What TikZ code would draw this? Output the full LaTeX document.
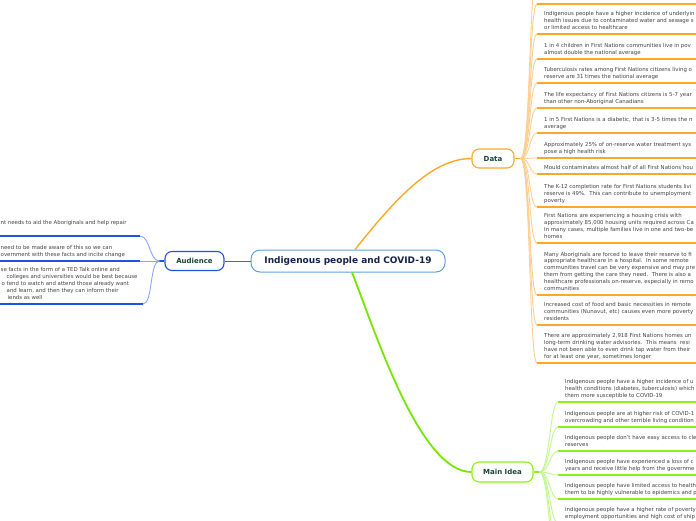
\documentclass[tikz,border=0pt]{standalone}
\usepackage{fontspec}
\setmainfont{DejaVu Sans}
\usepackage{tikz}
\usetikzlibrary{positioning}
\definecolor{rootblue}{RGB}{98,160,218}
\definecolor{rootnavy}{RGB}{22,35,75}
\definecolor{labelgreen}{RGB}{25,70,55}
\definecolor{audblue}{RGB}{30,82,232}
\definecolor{audlight}{RGB}{140,165,245}
\definecolor{dataorange}{RGB}{250,168,40}
\definecolor{datalight}{RGB}{253,206,145}
\definecolor{ideagreen}{RGB}{140,240,20}
\definecolor{idealight}{RGB}{196,248,150}
\definecolor{rootgreen}{RGB}{118,230,0}
\definecolor{itemgray}{RGB}{68,68,68}

\begin{document}
\begin{tikzpicture}[x=1pt,y=-1pt,
  topic/.style={draw, rounded corners=7pt, fill=white, line width=1.1pt, inner sep=0pt,
    minimum height=19pt, text=labelgreen, font=\bfseries\fontsize{7}{8}\selectfont},
  item/.style={inner sep=0pt, align=left, text=itemgray, text depth=1.3pt,
    font=\fontsize{5.4}{6.8}\selectfont},
  dfan/.style={datalight, line width=0.9pt},
  dline/.style={dataorange, line width=2.2pt},
  mfan/.style={idealight, line width=1pt},
  mline/.style={ideagreen, line width=2.4pt},
  afan/.style={audlight, line width=0.9pt},
  aline/.style={audblue, line width=1.8pt}]
  \useasboundingbox (0,0) rectangle (696,520);
  \clip (0,0) rectangle (696,520);

  % Central topic
  \node[draw=rootblue, line width=1pt, rounded corners=9pt, fill=white, minimum width=194pt,
    minimum height=22pt, text=rootnavy, font=\bfseries\fontsize{9}{11}\selectfont]
    (root) at (348,261) {Indigenous people and COVID-19};

  % Main topics
  \node[topic, draw=audblue, minimum width=59pt] (aud) at (194.5,261) {Audience};
  \node[topic, draw=dataorange, minimum width=42pt] (data) at (493,158.5) {Data};
  \node[topic, draw=ideagreen, minimum width=61pt, minimum height=20pt] (idea) at (502.5,472) {Main Idea};

  \draw[audblue!70!rootblue, line width=1pt] (root.west) -- (aud.east);
  \draw[dataorange, line width=1.4pt] ([xshift=7pt]root.north) .. controls +(40,-50) and +(-40,0) .. (data.west);
  \draw[rootgreen, line width=1.8pt] ([xshift=4pt]root.south) .. controls +(23,58) and +(-52,0) .. (idea.west);

  % Data
  \coordinate (dfan) at ([xshift=6pt]data.east);
  \draw[dataorange, line width=1.6pt] (data.east) -- (dfan);
  \coordinate (d0) at (537,-26);
  \coordinate (d1) at (537,4);
  \coordinate (d2) at (537,34);
  \coordinate (d3) at (537,59);
  \coordinate (d4) at (537,83);
  \coordinate (d5) at (537,108);
  \coordinate (d6) at (537,133);
  \coordinate (d7) at (537,158);
  \coordinate (d8) at (537,174);
  \coordinate (d9) at (537,207);
  \coordinate (d10) at (537,243);
  \coordinate (d11) at (537,295);
  \coordinate (d12) at (537,325);
  \coordinate (d13) at (537,363);
  \foreach \i in {0,...,13} {
    \draw[dfan] (dfan) .. controls +(10,0) and +(-8,0) .. (d\i);
    \draw[dline] (d\i) -- ++(170,0);
  }
  \node[item, above right=3.5pt and 7pt of d2] (t2) {Indigenous people have a higher incidence of underlyin\\health issues due to contaminated water and sewage s\\or limited access to healthcare};
  \node[item, above right=3.5pt and 7pt of d3] (t3) {1 in 4 children in First Nations communities live in pov\\almost double the national average};
  \node[item, above right=3.5pt and 7pt of d4] (t4) {Tuberculosis rates among First Nations citizens living o\\reserve are 31 times the national average};
  \node[item, above right=3.5pt and 7pt of d5] (t5) {The life expectancy of First Nations citizens is 5-7 year\\than other non-Aboriginal Canadians};
  \node[item, above right=3.5pt and 7pt of d6] (t6) {1 in 5 First Nations is a diabetic, that is 3-5 times the n\\average};
  \node[item, above right=3.5pt and 7pt of d7] (t7) {Approximately 25\% of on-reserve water treatment sys\\pose a high health risk};
  \node[item, above right=3.5pt and 7pt of d8] (t8) {Mould contaminates almost half of all First Nations hou};
  \node[item, above right=3.5pt and 7pt of d9] (t9) {The K-12 completion rate for First Nations students livi\\reserve is 49\%.\ \ This can contribute to unemployment\\poverty};
  \node[item, above right=3.5pt and 7pt of d10] (t10) {First Nations are experiencing a housing crisis with\\approximately 85,000 housing units required across Ca\\In many cases, multiple families live in one and two-be\\homes};
  \node[item, above right=3.5pt and 7pt of d11] (t11) {Many Aboriginals are forced to leave their reserve to fi\\appropriate healthcare in a hospital.\ \ In some remote\\communities travel can be very expensive and may pre\\them from getting the care they need.\ \ There is also a\\healthcare professionals on-reserve, especially in remo\\communities};
  \node[item, above right=3.5pt and 7pt of d12] (t12) {Increased cost of food and basic necessities in remote\\communities (Nunavut, etc) causes even more poverty\\residents};
  \node[item, above right=3.5pt and 7pt of d13] (t13) {There are approximately 2,918 First Nations homes un\\long-term drinking water advisories.\ \ This means\ \ resi\\have not been able to even drink tap water from their\\for at least one year, sometimes longer};

  % Main Idea
  \coordinate (mfan) at ([xshift=6pt]idea.east);
  \draw[ideagreen, line width=1.8pt] (idea.east) -- (mfan);
  \coordinate (m1) at (558,402);
  \coordinate (m2) at (558,427);
  \coordinate (m3) at (558,451);
  \coordinate (m4) at (558,475);
  \coordinate (m5) at (558,499);
  \coordinate (m6) at (558,523);
  \coordinate (m7) at (558,548);
  \coordinate (m8) at (558,573);
  \foreach \i in {1,...,8} {
    \draw[mfan] (mfan) .. controls +(10,0) and +(-8,0) .. (m\i);
    \draw[mline] (m\i) -- ++(150,0);
  }
  \node[item, above right=3.5pt and 7pt of m1] (i1) {Indigenous people have a higher incidence of u\\health conditions (diabetes, tuberculosis) which\\them more susceptible to COVID-19};
  \node[item, above right=3.5pt and 7pt of m2] (i2) {Indigenous people are at higher risk of COVID-1\\overcrowding and other terrible living condition};
  \node[item, above right=3.5pt and 7pt of m3] (i3) {Indigenous people don't have easy access to cle\\reserves};
  \node[item, above right=3.5pt and 7pt of m4] (i4) {Indigenous people have experienced a loss of c\\years and receive little help from the governme};
  \node[item, above right=3.5pt and 7pt of m5] (i5) {Indigenous people have limited access to health\\them to be highly vulnerable to epidemics and p};
  \node[item, above right=3.5pt and 7pt of m6] (i6) {indigenous people have a higher rate of poverty\\employment opportunities and high cost of ship};

  % Audience
  \coordinate (afan) at ([xshift=-5pt]aud.west);
  \draw[audblue, line width=1.4pt] (aud.west) -- (afan);
  \coordinate (a1) at (140,236);
  \coordinate (a2) at (140,261);
  \coordinate (a3) at (143,304);
  \foreach \i in {1,2,3} {
    \draw[afan] (afan) .. controls +(-10,0) and +(10,0) .. (a\i);
    \draw[aline] (a\i) -- ++(-150,0);
  }
  \node[item, anchor=base west] (u1) at (0.5,224.8) {nt needs to aid the Aboriginals and help repair};
  \node[item, anchor=south west] (u2) at (0.5,257.5) {need to be made aware of this so we can\\overnment with these facts and incite change};
  \node[item, anchor=south west] (u3) at (0.5,300.5) {se facts in the form of a TED Talk online and\\\hspace*{6pt}colleges and universities would be best because\\\hspace*{1pt}o tend to watch and attend those already want\\\hspace*{6pt}and learn, and then they can inform their\\\hspace*{7pt}iends as well};
\end{tikzpicture}
\end{document}
